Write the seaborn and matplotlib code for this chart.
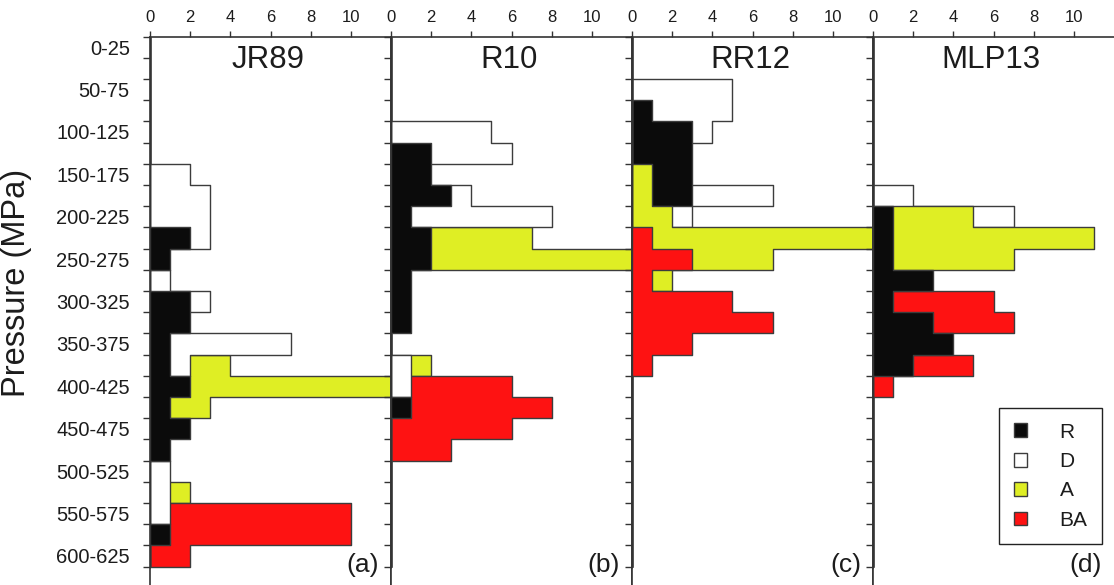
import numpy as np
import pandas as pd
import matplotlib
matplotlib.use("Agg")
import matplotlib.pyplot as plt
from matplotlib.patches import Patch
from matplotlib.ticker import FixedLocator
import seaborn as sns

# Pressure bins (MPa), 25 MPa wide, 0-625
bin_edges = list(range(0, 650, 25))
bin_labels = [f"{lo}-{lo + 25}" for lo in range(0, 625, 50)]

categories = ["R", "D", "A", "BA"]
barometers = ["JR89", "R10", "RR12", "MLP13"]
panel_tags = ["(a)", "(b)", "(c)", "(d)"]

# Number of estimates in each pressure bin (top bin first), per rock type
jr89_r = [0, 0, 0, 0, 0, 0, 0, 0, 0, 2, 1, 0, 2, 2, 1, 1, 2, 1, 2, 1, 0, 0, 0, 1, 0]
jr89_d = [0, 0, 0, 0, 0, 0, 2, 3, 3, 3, 0, 1, 3, 0, 7, 2, 0, 0, 0, 0, 1, 1, 1, 0, 0]
jr89_a = [0, 0, 0, 0, 0, 0, 0, 0, 0, 0, 0, 0, 0, 0, 0, 4, 12, 3, 0, 0, 0, 2, 0, 0, 0]
jr89_ba = [0, 0, 0, 0, 0, 0, 0, 0, 0, 0, 0, 0, 0, 0, 0, 0, 0, 0, 0, 0, 0, 0, 10, 10, 2]

r10_r = [0, 0, 0, 0, 0, 2, 2, 3, 1, 2, 2, 1, 1, 1, 0, 0, 0, 1, 0, 0, 0, 0, 0, 0, 0]
r10_d = [0, 0, 0, 0, 5, 6, 0, 4, 8, 0, 0, 0, 0, 0, 0, 1, 1, 0, 0, 0, 0, 0, 0, 0, 0]
r10_a = [0, 0, 0, 0, 0, 0, 0, 0, 0, 7, 12, 0, 0, 0, 0, 2, 0, 0, 0, 0, 0, 0, 0, 0, 0]
r10_ba = [0, 0, 0, 0, 0, 0, 0, 0, 0, 0, 0, 0, 0, 0, 0, 0, 6, 8, 6, 3, 0, 0, 0, 0, 0]

rr12_r = [0, 0, 0, 1, 3, 3, 3, 3, 0, 0, 0, 0, 0, 0, 0, 0, 0, 0, 0, 0, 0, 0, 0, 0, 0]
rr12_d = [0, 0, 5, 5, 4, 0, 0, 7, 3, 0, 0, 0, 0, 0, 0, 0, 0, 0, 0, 0, 0, 0, 0, 0, 0]
rr12_a = [0, 0, 0, 0, 0, 0, 1, 1, 2, 12, 7, 2, 0, 0, 0, 0, 0, 0, 0, 0, 0, 0, 0, 0, 0]
rr12_ba = [0, 0, 0, 0, 0, 0, 0, 0, 0, 1, 3, 1, 5, 7, 3, 1, 0, 0, 0, 0, 0, 0, 0, 0, 0]

mlp13_r = [0, 0, 0, 0, 0, 0, 0, 0, 1, 1, 1, 3, 1, 3, 4, 2, 0, 0, 0, 0, 0, 0, 0, 0, 0]
mlp13_d = [0, 0, 0, 0, 0, 0, 0, 2, 7, 0, 0, 0, 0, 0, 0, 0, 0, 0, 0, 0, 0, 0, 0, 0, 0]
mlp13_a = [0, 0, 0, 0, 0, 0, 0, 0, 5, 11, 7, 0, 0, 0, 0, 0, 0, 0, 0, 0, 0, 0, 0, 0, 0]
mlp13_ba = [0, 0, 0, 0, 0, 0, 0, 0, 0, 0, 0, 0, 6, 7, 0, 5, 1, 0, 0, 0, 0, 0, 0, 0, 0]

counts = {
    "JR89": {"R": jr89_r, "D": jr89_d, "A": jr89_a, "BA": jr89_ba},
    "R10": {"R": r10_r, "D": r10_d, "A": r10_a, "BA": r10_ba},
    "RR12": {"R": rr12_r, "D": rr12_d, "A": rr12_a, "BA": rr12_ba},
    "MLP13": {"R": mlp13_r, "D": mlp13_d, "A": mlp13_a, "BA": mlp13_ba},
}

# Long-form table: one row per (barometer, rock type, bin)
centers = [lo + 12.5 for lo in bin_edges[:-1]]
rows = []
for b in barometers:
    for c in categories:
        for p, n in zip(centers, counts[b][c]):
            rows.append({"barometer": b, "rock": c, "pressure": p, "n": n})
df = pd.DataFrame(rows)

# Styling
colors = {"R": "#0b0b0b", "D": "#ffffff", "A": "#dfee24", "BA": "#fe1212"}
edge = "#3c3c3c"
ink = "#1c1c1c"
# back-to-front drawing order of the filled step outlines in each panel
layering = {
    "JR89": ["A", "BA", "D", "R"],
    "R10": ["A", "BA", "D", "R"],
    "RR12": ["D", "R", "A", "BA"],
    "MLP13": ["D", "A", "BA", "R"],
}

sns.set_theme(style="ticks")
plt.rcParams["font.family"] = ["Liberation Sans", "DejaVu Sans"]
plt.rcParams["text.color"] = ink
plt.rcParams["axes.edgecolor"] = "#333333"
plt.rcParams["xtick.color"] = "#333333"
plt.rcParams["ytick.color"] = "#333333"
plt.rcParams["xtick.labelcolor"] = ink
plt.rcParams["ytick.labelcolor"] = ink

W, H = 1114, 585
fig = plt.figure(figsize=(W / 100, H / 100), dpi=100)

left_px, top_px, panel_w = 150, 36.5, 241
px_per_mpa = 21.2 / 25
y_bottom = (H - top_px) / px_per_mpa

axes = []
for i, b in enumerate(barometers):
    ax = fig.add_axes([(left_px + i * panel_w) / W, 0.0, panel_w / W, (H - top_px) / H])
    axes.append(ax)
    sub = df[df["barometer"] == b]
    for c in layering[b]:
        sns.histplot(
            data=sub[sub["rock"] == c], y="pressure", weights="n",
            bins=bin_edges, element="step", fill=True,
            color=colors[c], alpha=1, edgecolor=edge, linewidth=1.0, ax=ax,
        )
    ax.set_xlim(0, 12)
    ax.set_ylim(y_bottom, 0)
    ax.set_xlabel("")
    ax.set_ylabel("")

    # pressure axis: ticks on bin boundaries, labels at bin centres
    ax.yaxis.set_minor_locator(FixedLocator(bin_edges))
    ax.set_yticks([lo + 12.5 for lo in range(0, 625, 50)])
    ax.tick_params(axis="y", which="major", length=0, pad=14.5, labelsize=14.5)
    ax.tick_params(axis="y", which="minor", length=5, width=1.0, direction="out")
    if i == 0:
        ax.set_yticklabels(bin_labels)
    else:
        ax.tick_params(axis="y", labelleft=False)

    # count axis on top
    ax.xaxis.tick_top()
    ax.set_xticks([0, 2, 4, 6, 8, 10])
    ax.tick_params(axis="x", which="major", length=4.5, width=1.0, pad=4,
                   labelsize=12, direction="out")

    for s in ["top", "left", "right"]:
        ax.spines[s].set_linewidth(1.2)
    ax.spines["bottom"].set_visible(False)
    if i == len(barometers) - 1:
        ax.spines["right"].set_visible(False)

    ax.text(0.49, 0.957, b, transform=ax.transAxes, ha="center", va="center",
            fontsize=22.5, color=ink)
    ax.text(11.4, 623, panel_tags[i], ha="right", va="center", fontsize=19, color=ink)

axes[0].set_ylabel("Pressure (MPa)", fontsize=23.5, color=ink)
axes[0].yaxis.set_label_coords((32 - left_px) / panel_w, 1 - (282.5 - top_px) / (H - top_px))

handles = [Patch(facecolor=colors[c], edgecolor=edge, linewidth=1.0, label=c) for c in categories]
leg = fig.legend(
    handles=handles, loc="upper right", bbox_to_anchor=(1102 / W, 1 - 408 / H),
    fontsize=15, frameon=True, fancybox=False, framealpha=1, edgecolor="#222222",
    handlelength=0.65, handleheight=0.65, handletextpad=1.55, borderpad=0.7,
    labelspacing=0.5, borderaxespad=0,
)
leg.get_frame().set_linewidth(1.0)

fig.savefig("out.png", dpi=100)
